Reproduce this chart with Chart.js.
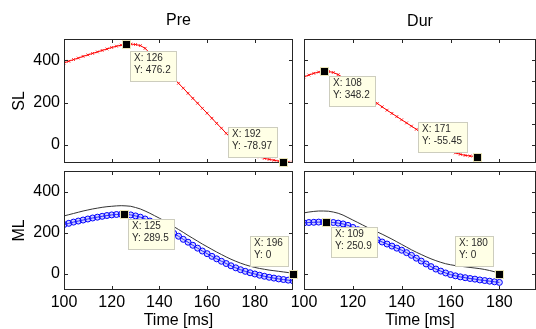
<!DOCTYPE html>
<html><head><meta charset="utf-8">
<script src="https://cdn.jsdelivr.net/npm/chart.js@4.4.1/dist/chart.umd.min.js"></script>
<style>
html,body{margin:0;padding:0;background:#fff;}
#wrap{position:relative;width:536px;height:329px;overflow:hidden;background:#fff;}
canvas{position:absolute;left:0;top:0;}
</style></head><body>
<div id="wrap">
<canvas id="c1" width="536" height="329"></canvas>
<canvas id="c2" width="536" height="329"></canvas>
<canvas id="c3" width="536" height="329"></canvas>
<canvas id="c4" width="536" height="329"></canvas>
</div>
<script>
// ---------- data ----------
const panelTitles = ['Pre', 'Dur'];
const rowLabels = ['SL', 'ML'];
const xAxisLabel = 'Time [ms]';
const xTickValues = [100, 120, 140, 160, 180];
const yTickValues = [0, 200, 400];
const yRightTicksDur = [0, 100, 200, 300, 400, 500];

const preTime = [100,102,104,106,108,110,112,114,116,118,120,122,124,126,128,130,132,134,136,138,140,142,144,146,148,150,152,154,156,158,160,162,164,166,168,170,172,174,176,178,180,182,184,186,188,190,192,194,196];
const preSL = [387,395,403,410,418,425,432,439,446,453,460,466,471,476,476,474,469,456,433,409,386,362,338,315,291,268,244,220,197,173,150,126,102,79,55,32,12,-6,-22,-36,-47,-56,-63,-68,-72,-76,-79,-81,-83];
const preMLRef = [281,287,293,299,305,310,315,319,323,326,328,330,331,330,328,322,315,305,294,282,270,257,243,229,215,201,186,172,158,144,131,118,105,93,81,70,60,51,43,36,30,25,21,17,14,11,8,5,0];
const preML = [239,245,251,256,261,266,271,275,279,283,286,288,289,289,286,281,275,266,256,245,234,222,210,196,182,167,153,138,124,110,97,84,72,60,49,38,28,19,11,4,-2,-8,-13,-18,-22,-26,-29,-32,-35];

const durSLTime = [100,102,104,106,108,110,112,114,116,118,120,122,124,126,128,130,132,134,136,138,140,142,144,146,148,150,152,154,156,158,160,162,164,166,168,170,171];
const durSL = [321,330,338,344,348,347,342,332,318,301,283,265,247,229,212,196,180,164,149,134,119,104,89,74,59,42,27,12,-2,-15,-27,-37,-44,-49,-52,-54,-55.45];

const durMLTime = [100,102,104,106,108,110,112,114,116,118,120,122,124,126,128,130,132,134,136,138,140,142,144,146,148,150,152,154,156,158,160,162,164,166,168,170,172,174,176,178,180];
const durMLRef = [296,300,303,305,305,304,300,294,285,273,261,249,237,225,214,203,192,180,168,155,142,129,116,104,93,82,72,63,55,48,43,39,36,33,30,27,24,20,15,9,0];
const durML = [247,249,250,251,251,250,249,246,242,235,225,214,202,190,177,165,154,144,134,124,114,102,89,75,61,47,34,22,12,3,-5,-11,-16,-20,-24,-27,-31,-34,-37,-40,-43];

// datatips [x, y]
const preSLTips = [[126, 476.2], [192, -78.97]];
const durSLTips = [[108, 348.2], [171, -55.45]];
const preMLTips = [[125, 289.5], [196, 0]];
const durMLTips = [[109, 250.9], [180, 0]];

// ---------- styling ----------
const FONT = '"Liberation Sans", Arial, Helvetica, sans-serif';
const pts = (t, v) => t.map((x, i) => ({x: x, y: v[i]}));

const redSet = (t, v) => ({data: pts(t, v), borderColor: '#ff0000', borderWidth: 1, pointStyle: 'crossRot',
  pointRadius: 2, pointBorderColor: 'rgba(255,0,0,0.8)', pointBorderWidth: 1, pointBackgroundColor: '#ff0000'});
const blueSet = (t, v) => ({data: pts(t, v), borderColor: '#0000ff', borderWidth: 1, pointStyle: 'circle',
  pointRadius: 3, pointBorderColor: '#0000ff', pointBorderWidth: 1, pointBackgroundColor: 'rgba(120,120,255,0.35)'});
const blackSet = (t, v) => ({data: pts(t, v), borderColor: '#333333', borderWidth: 1, pointRadius: 0});

const panelPlugin = {
  id: 'panel',
  afterDatasetsDraw(chart, args, o) {
    const ctx = chart.ctx, a = chart.chartArea, x = chart.scales.x, y = chart.scales.y;
    ctx.save();
    if (o.title) {
      ctx.font = '16px ' + FONT; ctx.fillStyle = '#000'; ctx.textAlign = 'center'; ctx.textBaseline = 'middle';
      ctx.fillText(o.title, (a.left + a.right) / 2, o.titleY);
    }
    ctx.strokeStyle = '#262626'; ctx.lineWidth = 1;
    ctx.strokeRect(a.left + 0.5, a.top + 0.5, a.right - a.left - 1, a.bottom - a.top - 1);
    const L = 4;
    ctx.beginPath();
    o.xTicks.forEach(v => {
      const px = Math.round(x.getPixelForValue(v)) + 0.5;
      if (px <= a.left + 1.5 || px >= a.right - 1.5) return;
      ctx.moveTo(px, a.bottom); ctx.lineTo(px, a.bottom - L);
      ctx.moveTo(px, a.top); ctx.lineTo(px, a.top + L);
    });
    o.yLeft.forEach(v => { const py = Math.round(y.getPixelForValue(v)) + 0.5; ctx.moveTo(a.left, py); ctx.lineTo(a.left + L, py); });
    o.yRight.forEach(v => { const py = Math.round(y.getPixelForValue(v)) + 0.5; ctx.moveTo(a.right, py); ctx.lineTo(a.right - L, py); });
    ctx.stroke();
    // datatips
    o.tips.forEach((t, i) => {
      const st = o.tipStyle[i];
      const mx = x.getPixelForValue(t[0]), my = y.getPixelForValue(t[1]);
      const lines = ['X: ' + t[0], 'Y: ' + t[1]];
      ctx.font = '10px ' + FONT;
      const w = Math.round(Math.max(...lines.map(s => ctx.measureText(s).width)) + 10);
      const h = 31;
      let bx, by;
      if (st.side === 'se') { bx = mx + st.dx; by = my + st.dy; } else { bx = mx - st.dx - w; by = my - st.dy - h; }
      bx = Math.round(bx); by = Math.round(by);
      ctx.fillStyle = '#ffffe6'; ctx.fillRect(bx, by, w, h);
      ctx.strokeStyle = '#cdcdbe'; ctx.lineWidth = 1; ctx.strokeRect(bx + 0.5, by + 0.5, w - 1, h - 1);
      ctx.fillStyle = '#2a2a2a'; ctx.textAlign = 'left'; ctx.textBaseline = 'middle';
      lines.forEach((s, k) => ctx.fillText(s, bx + 4, by + 7.5 + k * 12));
      ctx.fillStyle = '#e9e4b8'; ctx.fillRect(Math.round(mx) - 4, Math.round(my) - 4, 9, 9);
      ctx.fillStyle = '#000'; ctx.fillRect(Math.round(mx) - 3, Math.round(my) - 3, 7, 7);
    });
    ctx.restore();
  }
};

function makePanel(id, c) {
  return new Chart(document.getElementById(id), {
    type: 'line',
    data: {datasets: c.datasets},
    options: {
      responsive: false, animation: false, events: [],
      layout: {padding: c.padding, autoPadding: false},
      plugins: {legend: {display: false}, tooltip: {enabled: false}, panel: c.panel},
      scales: {
        x: {
          type: 'linear', min: c.xMin, max: c.xMax, display: c.showX,
          afterBuildTicks: s => { s.ticks = xTickValues.map(v => ({value: v})); },
          afterFit: s => { s.height = c.showX ? 39 : 0; s.paddingLeft = 0; s.paddingRight = 0; s.paddingTop = 0; s.paddingBottom = 0; },
          grid: {display: false, drawTicks: false}, border: {display: false},
          ticks: {font: {family: FONT, size: 16, lineHeight: 1.2}, color: '#000', padding: 3, maxRotation: 0, autoSkip: false, callback: v => String(v)},
          title: {display: c.showX, text: xAxisLabel, font: {family: FONT, size: 16, lineHeight: 1}, color: '#000', padding: {top: 0, bottom: 0}}
        },
        y: {
          type: 'linear', min: c.yMin, max: c.yMax, display: c.showY,
          afterBuildTicks: s => { s.ticks = yTickValues.map(v => ({value: v})); },
          afterFit: s => { s.width = c.showY ? 64 : 0; s.paddingLeft = 0; s.paddingRight = 0; s.paddingTop = 0; s.paddingBottom = 0; },
          grid: {display: false, drawTicks: false}, border: {display: false},
          ticks: {font: {family: FONT, size: 16}, color: '#000', padding: 4, autoSkip: false, callback: v => String(v)},
          title: {display: c.showY, text: c.yLabel, font: {family: FONT, size: 16, lineHeight: 1}, color: '#000', padding: {top: 12, bottom: 0}}
        }
      }
    },
    plugins: [panelPlugin]
  });
}

const tipStyleTL = [{side: 'se', dx: 4, dy: 7}, {side: 'nw', dx: 5, dy: 4}];
const tipStyleTR = [{side: 'se', dx: 5, dy: 5}, {side: 'nw', dx: 9, dy: 4}];
const tipStyleBL = [{side: 'se', dx: 4, dy: 5}, {side: 'nw', dx: 4, dy: 7}];
const tipStyleBR = [{side: 'se', dx: 5, dy: 5}, {side: 'nw', dx: 5, dy: 7}];

makePanel('c1', {
  datasets: [redSet(preTime, preSL)],
  padding: {left: 0, right: 243, top: 39, bottom: 166},
  xMin: 100, xMax: 196, yMin: -85, yMax: 500, showX: false, showY: true, yLabel: rowLabels[0],
  panel: {title: panelTitles[0], titleY: 21, xTicks: xTickValues, yLeft: yTickValues, yRight: yTickValues, tips: preSLTips, tipStyle: tipStyleTL}
});
makePanel('c2', {
  datasets: [redSet(durSLTime, durSL)],
  padding: {left: 304, right: 0, top: 39, bottom: 166},
  xMin: 100, xMax: 195, yMin: -85, yMax: 500, showX: false, showY: false, yLabel: '',
  panel: {title: panelTitles[1], titleY: 22, xTicks: xTickValues, yLeft: yTickValues, yRight: yRightTicksDur, tips: durSLTips, tipStyle: tipStyleTR}
});
makePanel('c3', {
  datasets: [blackSet(preTime, preMLRef), blueSet(preTime, preML)],
  padding: {left: 0, right: 243, top: 171, bottom: 0},
  xMin: 100, xMax: 196, yMin: -80, yMax: 500, showX: true, showY: true, yLabel: rowLabels[1],
  panel: {title: '', titleY: 0, xTicks: xTickValues, yLeft: yTickValues, yRight: yTickValues, tips: preMLTips, tipStyle: tipStyleBL}
});
makePanel('c4', {
  datasets: [blackSet(durMLTime, durMLRef), blueSet(durMLTime, durML)],
  padding: {left: 304, right: 0, top: 171, bottom: 0},
  xMin: 100, xMax: 195, yMin: -80, yMax: 500, showX: true, showY: false, yLabel: '',
  panel: {title: '', titleY: 0, xTicks: xTickValues, yLeft: yTickValues, yRight: yRightTicksDur, tips: durMLTips, tipStyle: tipStyleBR}
});
</script>
</body></html>
